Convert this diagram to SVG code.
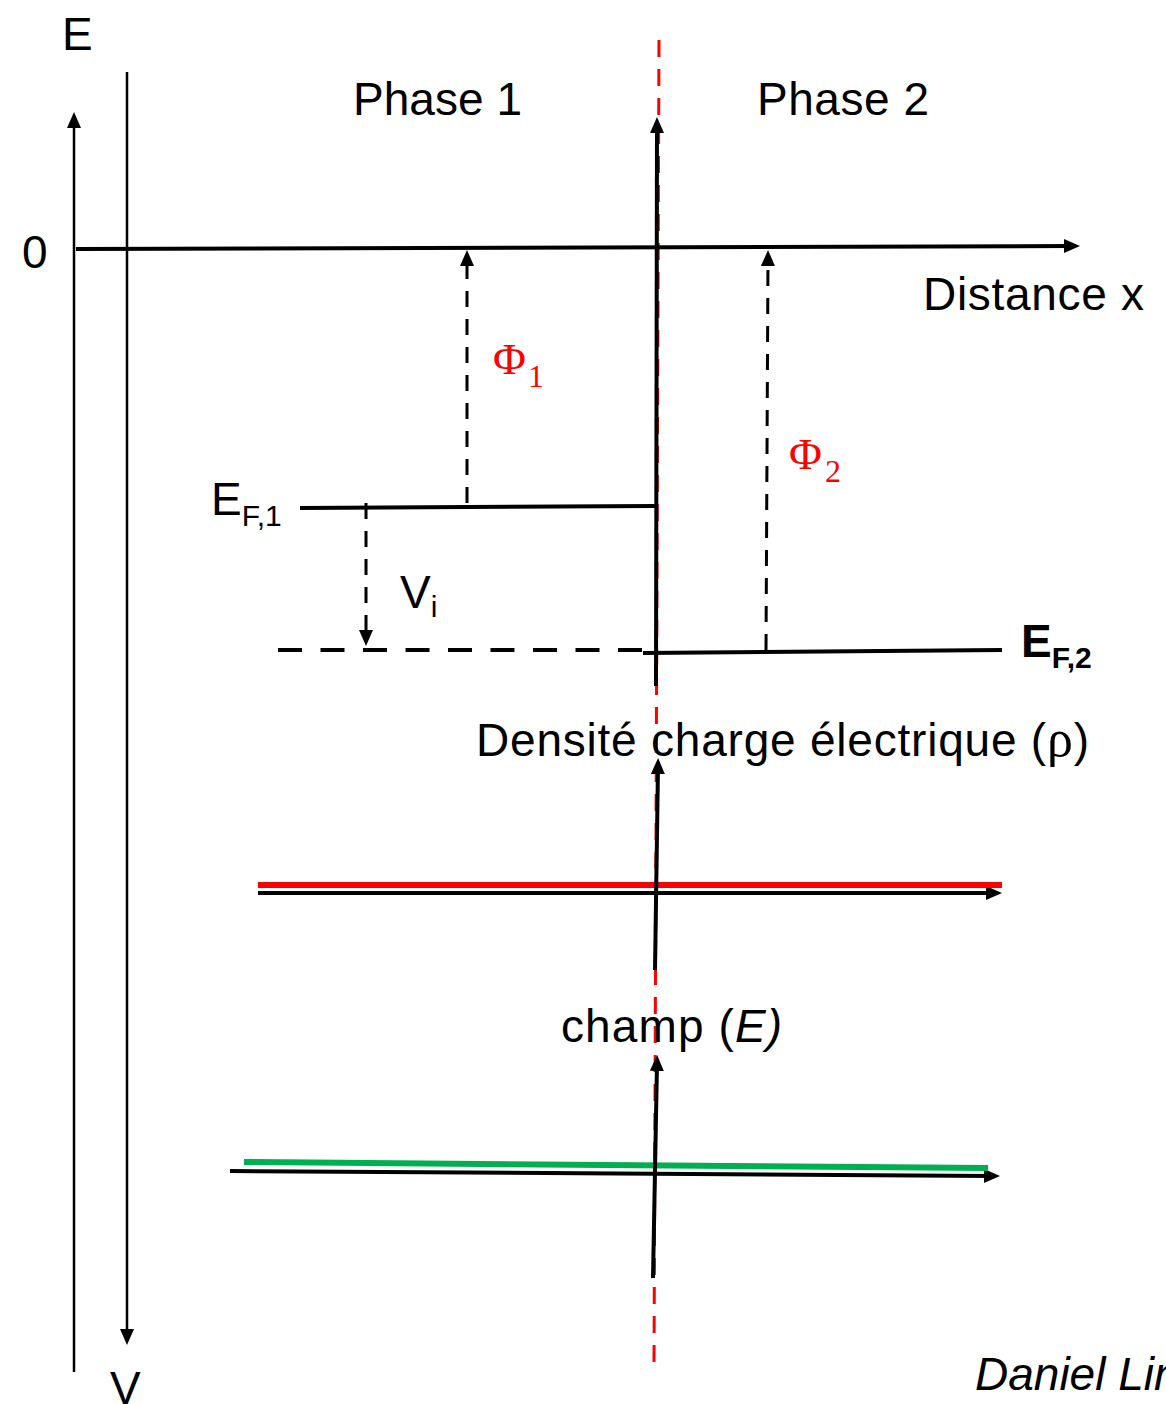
<svg xmlns="http://www.w3.org/2000/svg" width="1166" height="1404" viewBox="0 0 1166 1404">
<style>
text{font-family:"Liberation Sans",Arial,sans-serif;font-size:46px;fill:#000}
.phi{font-family:"Liberation Serif","Times New Roman",serif;fill:#ff0000;font-size:45px}
.sub{font-size:30px}
.psub{font-size:32px}
.ax{stroke:#000;fill:none}
.dash{stroke:#000;fill:none;stroke-width:3;stroke-dasharray:16 12}
</style>
<defs>
<marker id="ah" viewBox="-8 -7 16 14" refX="0" refY="0" markerWidth="16" markerHeight="14" markerUnits="userSpaceOnUse" orient="auto">
<path d="M-8,-7 L8,0 L-8,7 z" fill="#000"/>
</marker>
</defs>
<g id="connectors">
<line x1="659" y1="40" x2="654" y2="1368" stroke="#ff0000" stroke-width="3" stroke-dasharray="17 12"/>
<line class="ax" x1="74" y1="1372" x2="74" y2="120" stroke-width="2.5" marker-end="url(#ah)"/>
<line class="ax" x1="127" y1="72" x2="127" y2="1337" stroke-width="2.5" marker-end="url(#ah)"/>
<line class="ax" x1="76" y1="249" x2="1072" y2="246" stroke-width="4" marker-end="url(#ah)"/>
<line class="ax" x1="656" y1="686" x2="657" y2="125" stroke-width="4" marker-end="url(#ah)"/>
<line class="dash" x1="467" y1="503" x2="467" y2="258" marker-end="url(#ah)"/>
<line class="dash" x1="766" y1="650" x2="768" y2="258" marker-end="url(#ah)"/>
<line class="dash" x1="366" y1="503" x2="366" y2="638" stroke-width="3.5" stroke-dasharray="18 10.5" marker-end="url(#ah)"/>
<line class="ax" x1="300" y1="508" x2="655" y2="506" stroke-width="4"/>
<line class="ax" x1="278" y1="650" x2="645" y2="650" stroke-width="4" stroke-dasharray="24 18.5"/>
<line class="ax" x1="643" y1="653" x2="1002" y2="650" stroke-width="4"/>
<line class="ax" x1="258" y1="893" x2="994" y2="893" stroke-width="4" marker-end="url(#ah)"/>
<line x1="258" y1="885" x2="1002" y2="885" stroke="#ff0000" stroke-width="6"/>
<line class="ax" x1="655" y1="970" x2="658" y2="766" stroke-width="4" marker-end="url(#ah)"/>
<line class="ax" x1="230" y1="1171" x2="992" y2="1176" stroke-width="4" marker-end="url(#ah)"/>
<line x1="244" y1="1162" x2="988" y2="1168" stroke="#00b050" stroke-width="6"/>
<line class="ax" x1="653" y1="1278" x2="657" y2="1063" stroke-width="4" marker-end="url(#ah)"/>
</g>
<g id="labels">
<text x="62" y="50">E</text>
<text x="22" y="268">0</text>
<text x="353" y="115" textLength="169">Phase 1</text>
<text x="757" y="115" textLength="172">Phase 2</text>
<text x="923" y="310" textLength="221">Distance x</text>
<text class="phi" x="493" y="374">Φ<tspan class="psub" dx="2" dy="13">1</tspan></text>
<text class="phi" x="789" y="469">Φ<tspan class="psub" dx="3" dy="13">2</tspan></text>
<text x="211" y="515">E<tspan class="sub" dy="11">F,1</tspan></text>
<text x="400" y="608">V<tspan class="sub" dy="9">i</tspan></text>
<text x="1021" y="657" font-weight="bold">E<tspan class="sub" dy="11">F,2</tspan></text>
<text x="476" y="756" textLength="613">Densité charge électrique (<tspan font-family="Liberation Serif,serif" font-size="52">ρ</tspan>)</text>
<text x="561" y="1042" textLength="221">champ (<tspan font-style="italic">E)</tspan></text>
<text x="110" y="1404">V</text>
<text x="975" y="1390" font-style="italic">Daniel Lincot</text>
</g>
</svg>
